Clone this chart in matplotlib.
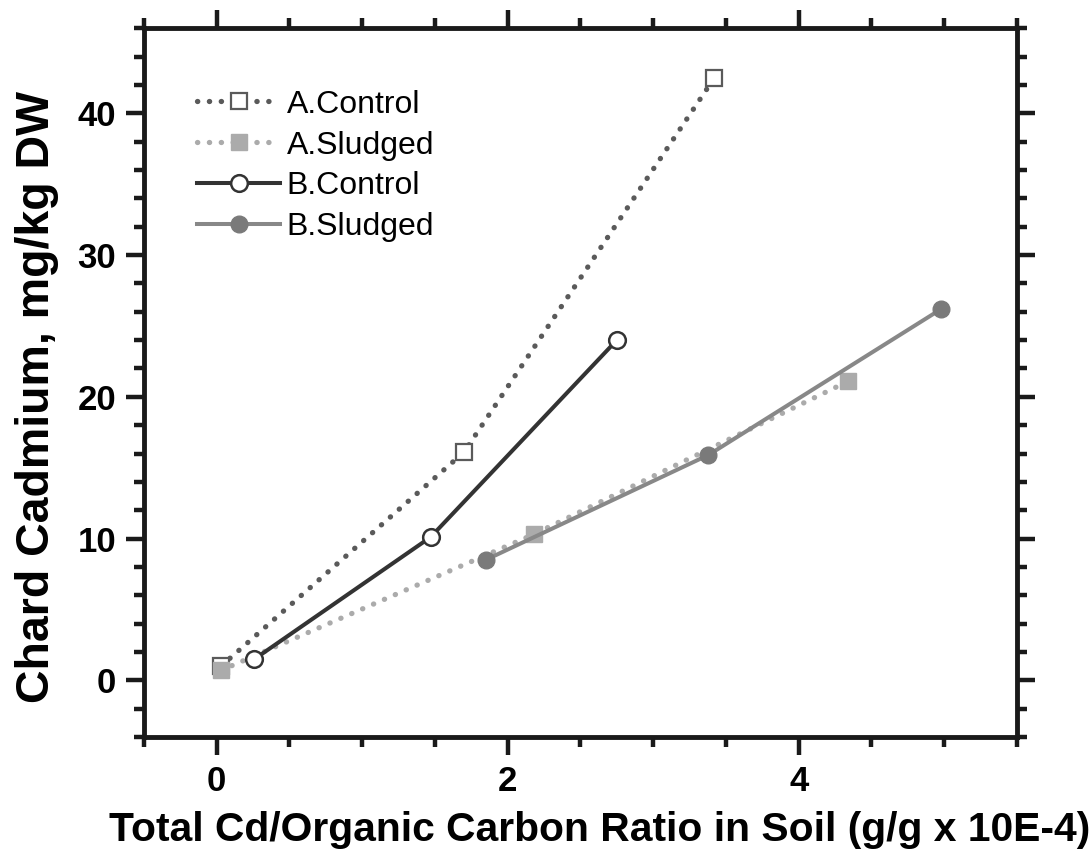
import matplotlib
matplotlib.use("Agg")
import matplotlib.pyplot as plt
from matplotlib.ticker import MultipleLocator

# values
a_ctrl_x = [0.03, 1.70, 3.42]
a_ctrl_y = [1.0, 16.1, 42.5]
a_sludge_x = [0.03, 2.18, 4.34]
a_sludge_y = [0.7, 10.3, 21.1]
b_ctrl_x = [0.26, 1.47, 2.75]
b_ctrl_y = [1.5, 10.1, 24.0]
b_sludge_x = [1.85, 3.38, 4.98]
b_sludge_y = [8.5, 15.9, 26.2]

plt.rcParams['font.family'] = ['Liberation Sans', 'DejaVu Sans']

fig = plt.figure(figsize=(10.9, 8.58), dpi=100)
ax = fig.add_axes([0.132, 0.141, 0.801, 0.826])

dots = (0, (0.05, 2.2))
ax.plot(a_ctrl_x, a_ctrl_y, color='#5a5a5a', ls=dots, lw=3.8, dash_capstyle='round',
        marker='s', ms=11.5, mfc='white', mec='#5a5a5a', mew=1.6, label='A.Control')
ax.plot(a_sludge_x, a_sludge_y, color='#ababab', ls=dots, lw=3.8, dash_capstyle='round',
        marker='s', ms=11.5, mfc='#ababab', mec='#ababab', label='A.Sludged')
ax.plot(b_ctrl_x, b_ctrl_y, color='#333333', ls='-', lw=2.9,
        marker='o', ms=12, mfc='white', mec='#333333', mew=1.8, label='B.Control')
ax.plot(b_sludge_x, b_sludge_y, color='#888888', ls='-', lw=2.9,
        marker='o', ms=12, mfc='#7a7a7a', mec='#7a7a7a', label='B.Sludged')

ax.set_xlim(-0.5, 5.5)
ax.set_ylim(-4, 46)
ax.xaxis.set_major_locator(MultipleLocator(2))
ax.xaxis.set_minor_locator(MultipleLocator(0.5))
ax.yaxis.set_major_locator(MultipleLocator(10))
ax.yaxis.set_minor_locator(MultipleLocator(2))

for s in ax.spines.values():
    s.set_linewidth(3.5)
    s.set_color('#1a1a1a')
ax.tick_params(which='both', direction='out', top=True, right=True, color='#1a1a1a')
ax.tick_params(which='major', length=13, width=3.2, labelsize=25, pad=7)
ax.tick_params(which='minor', length=7, width=3.2)
for lab in ax.get_xticklabels() + ax.get_yticklabels():
    lab.set_fontweight('bold')
ax.tick_params(labeltop=False, labelright=False)

ax.set_xlabel('Total Cd/Organic Carbon Ratio in Soil (g/g x 10E-4)',
              fontsize=29.3, fontweight='bold')
ax.xaxis.set_label_coords(0.522, -0.104)
ax.set_ylabel('Chard Cadmium, mg/kg DW', fontsize=33.5, fontweight='bold')
ax.yaxis.set_label_coords(-0.097, 0.48)

leg = ax.legend(loc='upper left', bbox_to_anchor=(0.028, 0.954), frameon=False,
                fontsize=23, handlelength=2.6, labelspacing=0.34, handletextpad=0.2)

fig.savefig('out.png', dpi=100)
